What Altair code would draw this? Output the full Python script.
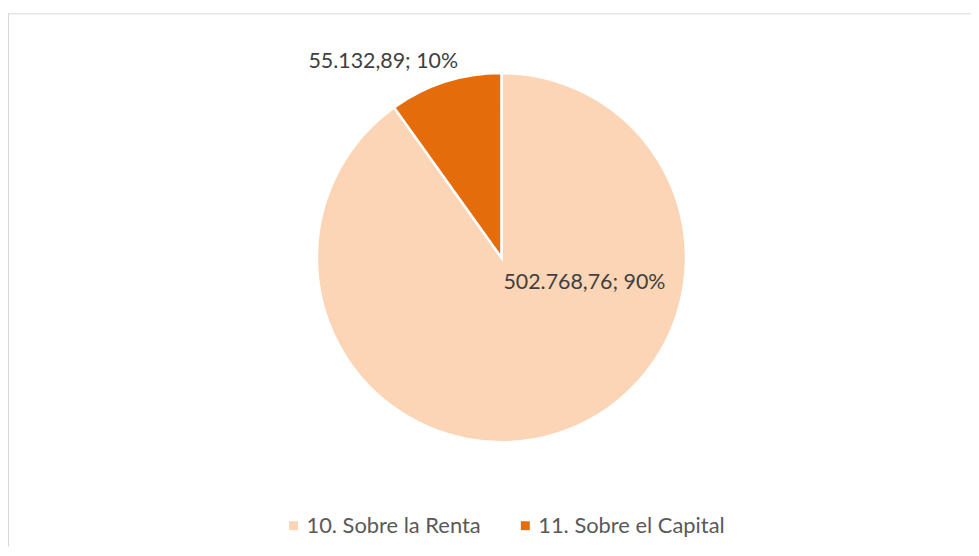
import altair as alt
import pandas as pd

categories = ["10. Sobre la Renta", "11. Sobre el Capital"]
values = [502768.76, 55132.89]
colors = ["#FBD5B5", "#E46C0A"]

total = sum(values)


def fmt_es(v):
    s = f"{v:,.2f}"
    return s.replace(",", "X").replace(".", ",").replace("X", ".")


labels = [f"{fmt_es(v)}; {round(v / total * 100)}%" for v in values]

df = pd.DataFrame({
    "cat": categories,
    "value": values,
    "order": list(range(len(categories))),
    "label": labels,
})

W, H = 968, 536
CX, CY = 496, 245.5
R = 185.5
FONT = "Lato"

base = alt.Chart(df)

pie = base.mark_arc(radius=R, stroke="white", strokeWidth=2.5).encode(
    theta=alt.Theta("value:Q", stack=True),
    order=alt.Order("order:Q"),
    color=alt.Color(
        "cat:N",
        scale=alt.Scale(domain=categories, range=colors),
        legend=alt.Legend(
            title=None,
            orient="none",
            direction="horizontal",
            legendX=276,
            legendY=504,
            symbolType="square",
            symbolSize=81,
            symbolStrokeWidth=0,
            labelFont=FONT,
            labelFontSize=22,
            labelColor="#595959",
            labelOffset=2,
            labelLimit=400,
            columnPadding=33,
        ),
    ),
    x=alt.value(CX),
    y=alt.value(CY),
)

lab_small = base.transform_filter(alt.datum.order == 1).mark_text(
    font=FONT, fontSize=21.5, color="#404040", align="left", baseline="middle"
).encode(text="label:N", x=alt.value(302), y=alt.value(48.5))

lab_big = base.transform_filter(alt.datum.order == 0).mark_text(
    font=FONT, fontSize=21.5, color="#404040", align="left", baseline="middle"
).encode(text="label:N", x=alt.value(498), y=alt.value(271))

frame_top = alt.Chart(pd.DataFrame({"a": [0]})).mark_rule(
    color="#D9D9D9", strokeWidth=1
).encode(x=alt.value(0), x2=alt.value(W), y=alt.value(0.5))

frame_left = alt.Chart(pd.DataFrame({"a": [0]})).mark_rule(
    color="#D9D9D9", strokeWidth=1
).encode(x=alt.value(0.5), y=alt.value(0), y2=alt.value(H))

chart = alt.layer(frame_top, frame_left, pie, lab_small, lab_big).properties(
    width=W,
    height=H,
    autosize=alt.AutoSizeParams(type="none"),
    padding={"top": 4, "left": 0, "right": 0, "bottom": 0},
).configure(background="white").configure_view(stroke=None)

chart.save("out.html", embed_options={"renderer": "svg", "actions": False})
